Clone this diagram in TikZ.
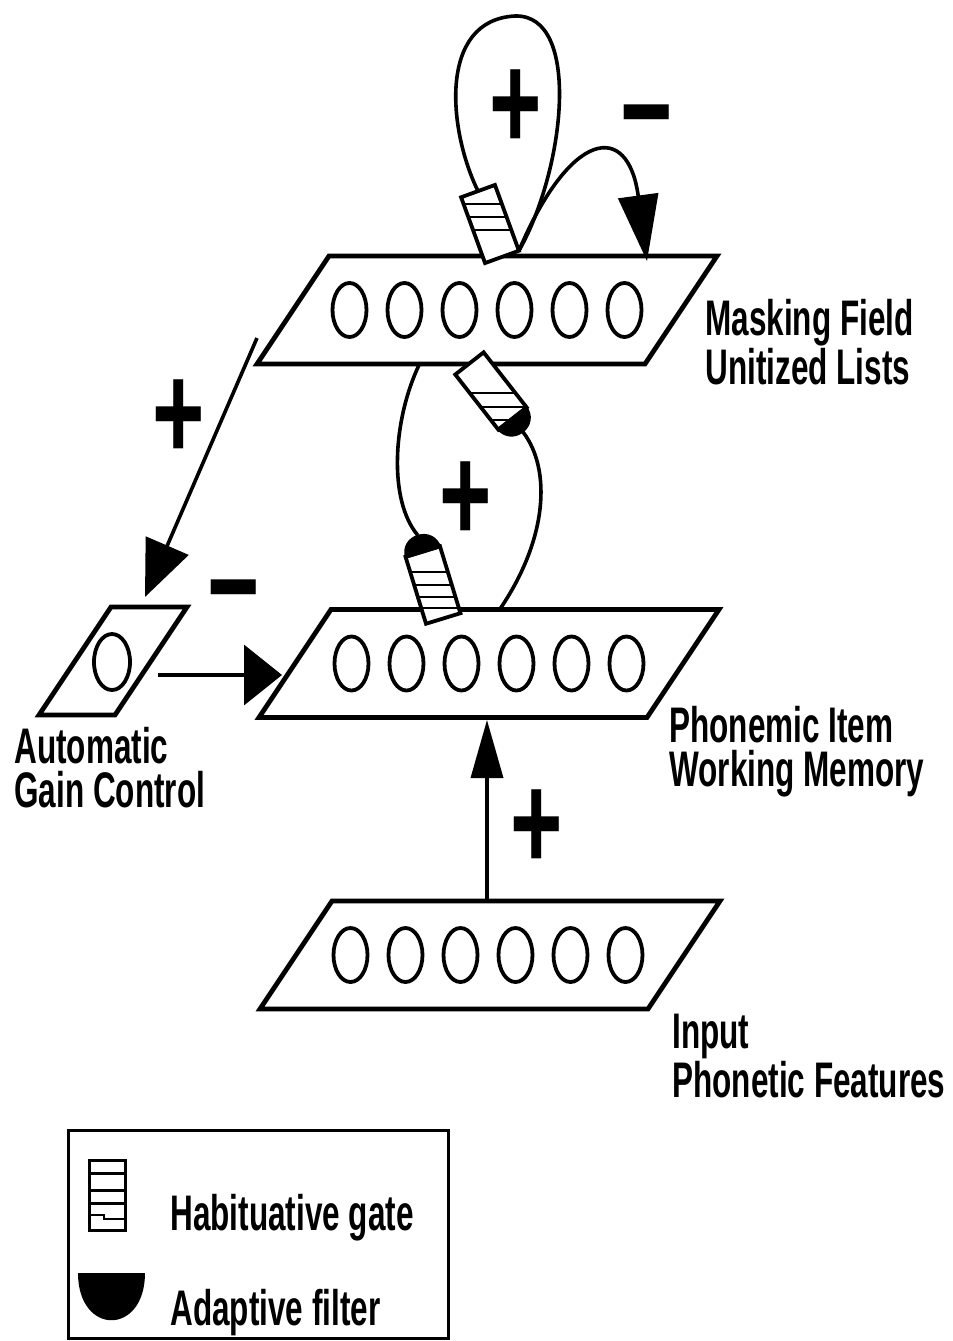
\documentclass[tikz,border=0pt]{standalone}
\usepackage{fontspec}
\setmainfont{Liberation Sans}[FakeStretch=0.63]
\newfontfamily\signfont{Liberation Sans}[FakeStretch=0.66]
\usepackage{tikz}
\usetikzlibrary{shapes.geometric,arrows.meta}
\tikzset{
	plane/.style    = {draw, line width=2.4pt},
	cell/.style     = {draw, ellipse, line width=1.9pt, inner sep=0pt,
		minimum width=17pt, minimum height=27pt},
	wire/.style     = {line width=1.8pt},
	bighead/.style 2 args = {wire, -{Triangle[length=#1, width=#2]}},
	gatebox/.style  = {draw, line width=1.9pt},
	stripe/.style   = {line width=1.1pt},
	sign/.style     = {inner sep=0pt, font=\signfont\bfseries\fontsize{68}{68}\selectfont},
	layername/.style = {inner sep=0pt, anchor=north west, align=left,
		font=\bfseries\fontsize{25}{22}\selectfont},
	keytext/.style  = {inner sep=0pt, anchor=base west,
		font=\bfseries\fontsize{25}{22}\selectfont},
	keybox/.style   = {draw, line width=1.5pt}
}
\newcommand{\sheet}[4]{% name, x, y, half width
	\draw[plane] (#2+36-#4,#3-54) -- (#2+36+#4,#3-54) -- (#2-36+#4,#3+54)
		-- (#2-36-#4,#3+54) -- cycle;
	\coordinate (#1) at (#2,#3);}
\newcommand{\cells}[3]{% prefix, x, y
	\foreach \i in {1,...,6}
		\draw node at ({#2-192.5+55*\i},#3)[cell] (#1\i) {};}
\newcommand{\hgate}[5]{% name, x, y, tilt, stripes
	\fill[white, rotate around={#4:(#2,#3)}] (#2-18,#3-35) rectangle (#2+18,#3+35);
	\begin{scope}
		\clip[rotate around={#4:(#2,#3)}] (#2-18,#3-35) rectangle (#2+18,#3+35);
		\foreach \s in {#5} \draw[stripe] (#2-60,#3+\s) -- (#2+60,#3+\s);
	\end{scope}
	\draw[gatebox, rotate around={#4:(#2,#3)}] (#2-18,#3-35) rectangle (#2+18,#3+35)
		(#2,#3-35) coordinate (#1-n) (#2+18,#3+35) coordinate (#1-se);}
\newcommand{\afilter}[5]{% name, x, y, tilt, side (1 below, -1 above)
	\fill[rotate around={#4:(#2,#3)}] (#2-19,{#3+33*#5}) .. controls (#2-19,{#3+59*#5})
		and (#2+19,{#3+59*#5}) .. (#2+19,{#3+33*#5}) -- cycle
		(#2,{#3+52*#5}) coordinate (#1);}

\begin{document}
\begin{tikzpicture}[x=0.5pt, y=-0.5pt]
	\path[fill=white, use as bounding box] (0,0) rectangle (953,1341);

	% layers
	\sheet{mask}{487}{310}{194} \cells{m}{487}{310}
	\sheet{item}{489}{663.5}{194} \cells{p}{489}{663.5}
	\sheet{feat}{490}{955}{194} \cells{f}{488}{955}
	\sheet{agc}{113}{661}{38}
	\draw node at (112,662)[cell, minimum width=18pt, minimum height=28pt] (a1) {};

	% gates and filters
	\hgate{tg}{490}{224}{20}{-20,-7,6}
	\hgate{ug}{491}{391}{38}{2,16,29}
	\afilter{uf}{491}{391}{38}{1}
	\hgate{lg}{433}{585}{17}{-13,0,12,23}
	\afilter{lf}{433}{585}{17}{-1}

	\coordinate (mask-w) at (257,338);
	\coordinate (mask-b) at (419,365);
	\coordinate (mask-t) at (647,261);
	\coordinate (agc-n) at (145,597);
	\coordinate (agc-e) at (158,675);
	\coordinate (item-w) at (282,675);
	\coordinate (item-t) at (500,609);
	\coordinate (item-s) at (487,720);
	\coordinate (feat-n) at (487,901);

	\draw[bighead={28pt}{23pt}] (mask-w) -- (agc-n);
	\draw[bighead={19pt}{30pt}] (agc-e) -- (item-w);
	\draw[bighead={29pt}{16pt}] (feat-n) -- (item-s);
	\draw[wire] (tg-n) .. controls (448,130) and (438,20) .. (515,16)
		.. controls (582,14) and (565,170) .. (tg-se);
	\draw[bighead={33pt}{20pt}] (tg-se) .. controls (570,130) and (628,120) .. (mask-t);
	\draw[wire] (mask-b) .. controls (393,420) and (388,500) .. (lf);
	\draw[wire] (item-t) .. controls (547,540) and (552,470) .. (uf);

	% signs
	\node[sign] (plusloop) at (516,110) {+};
	\node[sign] (minusloop) at (647,131) {−};
	\node[sign] (plusagc) at (179,420) {+};
	\node[sign] (minusagc) at (234,606) {−};
	\node[sign] (plusmid) at (466,502) {+};
	\node[sign] (plusin) at (537,830) {+};

	\node[layername] (lmask) at (705,299) {Masking Field\\Unitized Lists};
	\node[layername] (litem) at (669,706) {Phonemic Item\\Working Memory};
	\node[layername] (lfeat) at (672,1014) {Input\\Phonetic Features};
	\node[layername] (lagc) at (14,727) {Automatic\\Gain Control};

	% legend
	\draw[keybox] (68,1130) rectangle (448,1338);
	\hgate{kg}{107.5}{1195.5}{0}{-22,-5,8}
	\draw[stripe] (89.5,1215) -- (104,1215) -- (104,1219) -- (125.5,1219);
	\fill (78,1273) .. controls (78,1336) and (145,1336) .. (145,1273) -- cycle;
	\node[keytext] (kgate) at (170,1230) {Habituative gate};
	\node[keytext] (kfilter) at (170,1325) {Adaptive filter};
\end{tikzpicture}
\end{document}
